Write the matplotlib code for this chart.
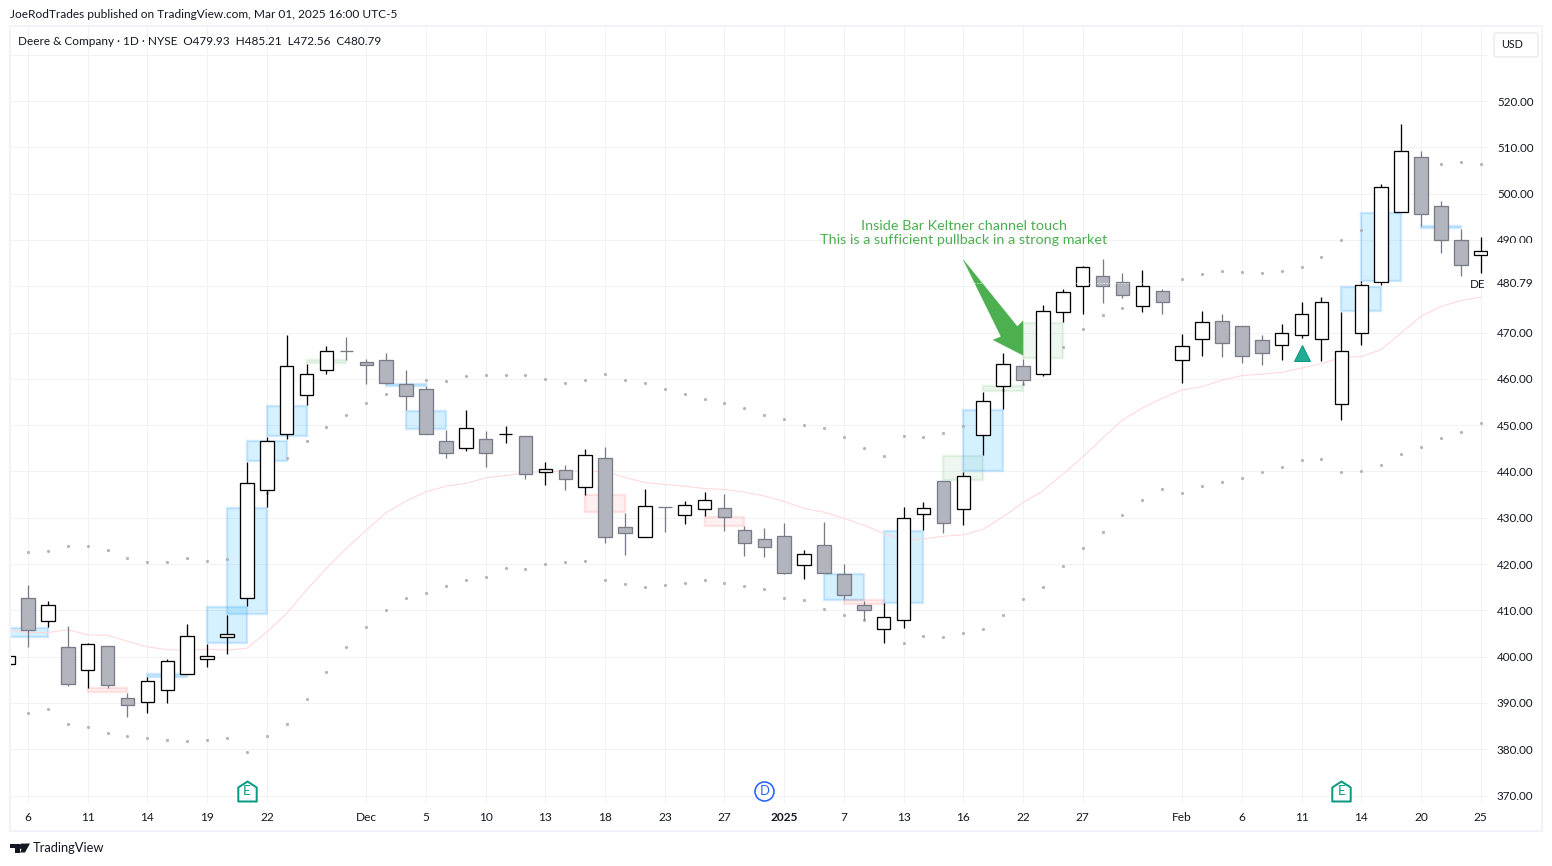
import numpy as np
import matplotlib
matplotlib.use("Agg")
import matplotlib.pyplot as plt
from matplotlib.patches import Rectangle, Polygon, FancyBboxPatch
from matplotlib.path import Path
from matplotlib.lines import Line2D

# ---------- data ----------
bar_index = list(range(-1, 74))
opens = [398.3,412.6,407.6,402.0,397.0,402.2,391.0,390.3,392.7,396.2,399.4,404.2,412.6,435.9,448.0,456.6,461.8,465.9,463.6,464.0,
         458.8,457.9,446.5,445.0,447.1,448.0,447.6,439.9,440.2,436.6,443.0,427.9,425.9,432.3,430.5,431.8,432.2,427.3,425.3,426.0,
         419.7,424.0,417.8,411.1,405.9,408.0,430.7,437.9,431.8,447.8,458.4,462.7,461.0,474.4,480.0,482.3,480.8,475.7,478.9,464.0,
         468.5,472.4,471.3,468.3,467.4,469.4,468.7,454.5,469.8,480.8,496.0,508.0,497.3,489.9,486.7]
highs = [400.6,415.5,412.0,406.6,402.9,402.2,392.1,395.6,399.4,407.0,402.7,409.0,442.0,447.4,469.5,463.3,467.1,469.0,464.3,465.6,
         462.0,458.4,448.9,453.3,448.7,449.8,447.6,442.0,441.4,444.8,445.3,431.0,436.3,432.4,433.6,435.6,435.1,428.1,427.8,428.9,
         423.0,429.1,420.0,412.0,411.5,432.3,433.3,437.9,439.9,457.1,465.6,464.3,475.9,479.3,484.4,485.8,482.8,483.4,479.5,469.7,
         474.6,474.0,471.3,469.5,471.8,476.6,477.7,474.4,481.1,502.0,515.0,509.1,498.5,492.3,490.6]
lows = [398.0,402.1,406.5,393.7,393.3,393.3,387.0,387.9,390.0,396.2,397.8,400.6,410.9,432.4,446.9,454.4,461.1,464.1,458.9,458.8,
        453.3,448.0,443.0,444.3,441.0,446.2,438.4,437.1,436.0,434.9,424.6,422.0,425.9,427.0,428.7,430.4,427.2,421.8,421.6,417.9,
        416.8,418.0,412.5,407.8,403.0,406.2,427.3,426.6,428.5,443.5,453.5,458.6,460.7,472.3,474.1,476.4,477.4,474.5,474.1,459.2,
        465.0,464.8,463.5,463.0,464.1,468.9,463.9,451.2,467.2,480.2,496.0,493.0,487.2,482.3,482.9]
closes = [400.2,405.7,411.1,394.0,402.7,393.8,389.5,394.7,399.0,404.4,400.1,404.8,437.4,446.5,462.7,461.0,465.9,465.9,462.9,459.2,
          456.2,448.0,443.9,449.3,443.9,448.05,439.4,440.5,438.3,443.5,425.9,426.6,432.5,432.3,432.7,433.8,430.1,424.5,423.6,418.1,
          422.1,418.0,413.2,410.0,408.5,429.9,432.2,428.8,438.9,455.3,463.1,459.7,474.6,478.7,484.1,480.0,478.0,480.0,476.5,467.0,
          472.2,467.7,464.9,465.5,469.8,474.1,476.5,466.1,480.2,501.4,509.1,495.7,489.9,484.5,487.5]
ema = [405.8,405.2,405.2,405.8,404.7,404.6,403.3,402.1,401.5,401.4,401.6,401.4,401.8,405.3,409.3,414.4,419.1,423.4,427.3,431.1,
       433.6,435.6,436.8,437.4,438.6,439.1,439.7,440.0,440.0,440.0,440.0,438.7,437.6,437.2,436.8,436.3,436.1,435.5,434.7,433.5,
       432.0,431.2,429.9,428.4,426.6,425.2,425.4,426.0,426.3,427.5,430.2,433.3,435.8,439.4,443.1,447.2,451.1,453.7,455.8,457.6,
       458.3,459.7,460.7,461.0,461.4,462.3,463.3,464.6,464.8,466.3,469.9,473.5,475.6,476.9,477.6]
upper = [422.8,422.5,422.7,423.8,423.8,423.0,421.2,420.4,420.4,421.2,420.6,421.0,428.0,435.3,442.8,446.5,449.5,452.1,454.7,456.7,
         458.0,459.7,459.5,460.5,460.8,460.8,460.8,459.9,459.0,459.7,461.0,459.7,459.2,457.9,456.7,455.6,454.7,453.6,452.1,451.3,
         450.0,449.3,447.4,445.0,443.3,447.6,447.4,448.2,449.7,453.0,457.5,458.9,465.0,466.8,470.7,473.7,475.2,477.5,478.0,481.5,
         482.6,483.2,483.0,482.8,483.2,484.1,486.2,489.9,492.1,498.0,503.0,505.0,506.5,506.8,506.5]
lower = [387.6,387.8,388.6,385.4,384.9,383.6,382.8,382.4,381.9,381.7,381.9,382.4,379.5,382.8,385.4,390.8,396.6,402.0,406.3,410.0,
         412.6,413.7,415.2,416.5,417.3,419.1,418.9,419.9,420.4,420.6,416.5,415.6,415.0,415.4,416.0,416.5,416.0,415.2,414.5,412.6,
         412.2,410.2,408.9,407.8,406.5,402.9,404.4,404.2,405.0,405.9,408.9,412.4,415.0,419.5,423.5,426.9,430.6,433.8,436.2,435.3,
         436.8,437.7,438.6,439.9,440.9,442.5,442.7,439.9,440.1,441.4,443.8,445.3,447.2,448.5,450.5]

zone_start = [-1, 3, 6, 9, 10, 11, 12, 14, 18, 19, 28, 34, 40, 41, 43, 46, 47, 48, 50, 66, 67, 70]
zone_end   = [1, 5, 8, 11, 12, 13, 14, 16, 20, 21, 30, 36, 42, 43, 45, 48, 49, 50, 52, 68, 69, 72]
zone_low   = [404.2,392.3,395.7,402.9,409.2,442.2,447.6,463.5,458.5,449.1,431.2,428.1,412.2,411.4,411.5,438.1,440.0,457.3,464.4,474.6,481.2,492.5]
zone_high  = [406.2,393.2,396.2,410.8,432.2,446.6,454.1,464.0,458.8,453.1,434.8,430.2,417.8,412.3,427.2,443.4,453.3,458.4,472.1,479.9,495.9,492.9]
zone_kind  = ["b","r","b","b","b","b","b","g","b","b","r","r","b","r","b","g","b","g","g","b","b","b"]

x_tick_pos = [0,3,6,9,12,17,20,23,26,29,32,35,38,41,44,47,50,53,58,61,64,67,70,73]
x_tick_labels = ["6","11","14","19","22","Dec","5","10","13","18","23","27","2025","7","13","16","22","27","Feb","6","11","14","20","25"]
y_ticks = [370,380,390,400,410,420,430,440,450,460,470,480,490,500,510,520,530]
y_labels = ["370.00","380.00","390.00","400.00","410.00","420.00","430.00","440.00","450.00","460.00","470.00","","490.00","500.00","510.00","520.00",""]
last_close = 480.79

arrow_x = [47.0, 49.71, 50.0, 50.0, 48.5, 48.9]
arrow_p = [485.7, 471.3, 472.5, 465.1, 468.4, 469.1]

earnings_idx, earnings_price = [11, 66], [371, 371]
dividend_idx, dividend_price = [37], [371]
signal_idx, signal_price = [64], [465.6]

# ---------- style ----------
W, H = 1552, 866
FONT = "Lato"
TXT = "#131722"
GRID = "#F1F2F5"
px = 0.72

fig = plt.figure(figsize=(W/100, H/100), dpi=100, facecolor="white")
plt.rcParams["font.family"] = FONT
L, R, T, B = 11, 1488, 27, 802.7
ax = fig.add_axes([L/W, 1-B/H, (R-L)/W, (B-T)/H])
ax.set_xlim((L-28)/19.9, (R-28)/19.9)
ax.set_ylim(370+(795.5-B)/4.63, 370+(795.5-T)/4.63)
for s in ax.spines.values():
    s.set_visible(False)
ax.set_axisbelow(True)
ax.grid(True, color=GRID, lw=1*px)

ax.set_xticks(x_tick_pos)
ax.set_xticklabels(x_tick_labels, fontsize=11.9*px, color=TXT, family=FONT)
for lab, txt in zip(ax.get_xticklabels(), x_tick_labels):
    if txt == "2025":
        lab.set_fontweight("bold")
ax.yaxis.tick_right()
ax.set_yticks(y_ticks)
ax.set_yticklabels(y_labels, fontsize=11.6*px, color=TXT, family=FONT)
ax.tick_params(axis="both", length=0)
ax.tick_params(axis="x", pad=9*px)
ax.tick_params(axis="y", pad=9*px)

# zones
styles = {"b": ((0.30,0.75,1.0,0.23), (0.13,0.59,0.95,0.20)),
          "g": ((0.30,0.69,0.31,0.09), (0.30,0.69,0.31,0.13)),
          "r": ((1.0,0.32,0.32,0.08), (1.0,0.32,0.32,0.14))}
for s, e, lo, hi, k in zip(zone_start, zone_end, zone_low, zone_high, zone_kind):
    ax.add_patch(Rectangle((s, lo), e-s, hi-lo, facecolor=styles[k][0], edgecolor=styles[k][1], lw=2.4*px, zorder=1.5))

ax.plot(bar_index, ema, color="#FFD9DB", lw=1.1*px, zorder=2)
ax.plot(bar_index, upper, ls="none", marker="o", ms=2.3, mfc="#B2B5BE", mec="none", zorder=2.5)
ax.plot(bar_index, lower, ls="none", marker="o", ms=2.3, mfc="#B2B5BE", mec="none", zorder=2.5)

# candles
idx = np.array(bar_index)
o, h, l, c = map(np.array, (opens, highs, lows, closes))
up = c > o
ecol = np.where(up, "#000000", "#787B86")
fcol = np.where(up, "#FFFFFF", "#B2B5BE")
ax.vlines(idx, l, h, colors=ecol, lw=1.3*px, zorder=5)
ax.bar(idx, np.abs(c-o), bottom=np.minimum(o, c), width=0.68, color=fcol, edgecolor=ecol, lw=1.3*px, zorder=6)

ax.axhline(last_close, color="white", lw=1*px, ls=(0, (1, 2)), zorder=8)

ax.add_patch(Polygon(np.column_stack([arrow_x, arrow_p]), closed=True, facecolor="#4CAF50", edgecolor="#4CAF50", lw=0.3, zorder=7))
ax.plot(signal_idx, signal_price, ls="none", marker="^", ms=16*px, mfc="#22AB94", mec="#089981", mew=0.7, zorder=7)

house = Path([(-0.46,-0.5),(-0.46,0.2),(0,0.5),(0.46,0.2),(0.46,-0.5),(-0.46,-0.5)], closed=True)
ax.plot(earnings_idx, earnings_price, ls="none", marker=house, ms=20*px, mfc="white", mec="#089981", mew=2*px, zorder=7)
for i, p in zip(earnings_idx, earnings_price):
    ax.text(i, p, "E", color="#089981", fontsize=13.5*px, ha="center", va="center", zorder=8)
ax.plot(dividend_idx, dividend_price, ls="none", marker="o", ms=19*px, mfc="white", mec="#2962FF", mew=1.6*px, zorder=7)
for i, p in zip(dividend_idx, dividend_price):
    ax.text(i, p, "D", color="#2962FF", fontsize=13*px, ha="center", va="center", zorder=8)

# ---------- figure-level overlays (in pixel positions) ----------
def fx(x): return x/W
def fy(y): return 1-y/H
def ftext(x, y, s, size, color=TXT, ha="left", va="center", **kw):
    return fig.text(fx(x), fy(y), s, fontsize=size*px, color=color, ha=ha, va=va, family=FONT, **kw)

# frame
fig.add_artist(Rectangle((fx(10), fy(830.5)), (1542-10)/W, (830.5-26)/H, transform=fig.transFigure,
                         facecolor="none", edgecolor="#F0F3FA", lw=2*px, zorder=1))
# mask that cuts the 490.00 label
fig.add_artist(Rectangle((fx(1490), fy(276)), 48/W, 33/H, transform=fig.transFigure,
                         facecolor="white", edgecolor="none", zorder=1.5))
ftext(1497, 283.5, "480.79", 11.6, zorder=3)
ftext(1470, 284, "DE", 11.6, zorder=3)

ftext(10, 15, "JoeRodTrades published on TradingView.com, Mar 01, 2025 16:00 UTC-5", 11.9, zorder=3)
ftext(18, 41.5, "Deere & Company \u00b7 1D \u00b7 NYSE  O479.93  H485.21  L472.56  C480.79", 11.8, zorder=3)

ftext(964, 225.5, "Inside Bar Keltner channel touch", 14.4, color="#4CAF50", ha="center", zorder=3)
ftext(964, 239.5, "This is a sufficient pullback in a strong market", 14.4, color="#4CAF50", ha="center", zorder=3)

# USD button
fig.add_artist(FancyBboxPatch((fx(1494), fy(57)), 44/W, 24/H, boxstyle="round,pad=0,rounding_size=0.002",
                              transform=fig.transFigure, facecolor="white", edgecolor="#E0E3EB", lw=1*px, zorder=2))
ftext(1512, 44.5, "USD", 10.8, ha="center", zorder=3)

# TradingView logo
def poly(pts):
    fig.add_artist(Polygon([(fx(a), fy(b)) for a, b in pts], closed=True, transform=fig.transFigure,
                           facecolor="#131722", edgecolor="none", zorder=2))
poly([(10,843.5),(20,843.5),(20,852.5),(15,852.5),(15,848),(10,848)])
poly([(24.5,843.5),(30,843.5),(25,852.5),(20,852.5)])
fig.add_artist(Line2D([fx(22)], [fy(845.5)], marker="o", ms=3.4, color="#131722", ls="none", transform=fig.transFigure, zorder=2))
ftext(33, 848.5, "TradingView", 12.9, zorder=3)

fig.savefig("out.png", dpi=100)
